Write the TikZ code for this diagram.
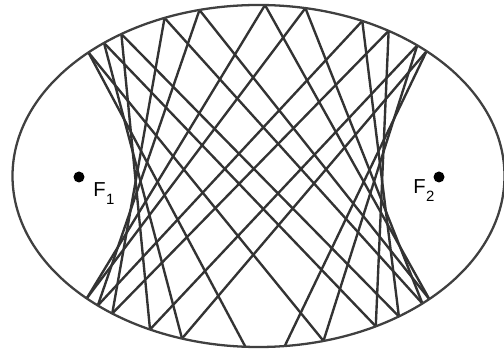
\documentclass[tikz,border=0pt]{standalone}
\usepackage{fontspec}
\setmainfont{Liberation Sans}
\begin{document}
\begin{tikzpicture}[x=2cm,y=2cm,
  chord/.style={draw=black!80,line width=1.35pt},
  rim/.style={draw=black!75,line width=1.3pt},
  focus/.style={circle,fill=black,inner sep=0pt,minimum size=0.22cm},
  flabel/.style={inner sep=0pt,anchor=base west,font=\fontsize{11.5}{12}\selectfont}]
\useasboundingbox (-2.585,-1.78) rectangle (2.455,1.76);
\def\aa{2.46}\def\bb{1.71}
% billiard path inside the ellipse: start point, direction, number of chords
\def\billiard#1#2#3#4#5{%
  \xdef\bpx{#1}\xdef\bpy{#2}\xdef\bdx{#3}\xdef\bdy{#4}%
  \foreach \k in {1,...,#5}{%
    \pgfmathsetmacro\btp{-2*(\bpx*\bdx/(\aa*\aa)+\bpy*\bdy/(\bb*\bb))/(\bdx*\bdx/(\aa*\aa)+\bdy*\bdy/(\bb*\bb))}%
    \pgfmathsetmacro\bqx{\bpx+\btp*\bdx}%
    \pgfmathsetmacro\bqy{\bpy+\btp*\bdy}%
    \pgfmathsetmacro\brr{sqrt(\bqx*\bqx/(\aa*\aa)+\bqy*\bqy/(\bb*\bb))}%
    \pgfmathsetmacro\bqx{\bqx/\brr}%
    \pgfmathsetmacro\bqy{\bqy/\brr}%
    \draw[chord] (\bpx,\bpy) -- (\bqx,\bqy);
    \pgfmathsetmacro\bnx{\bqx/(\aa*\aa)}%
    \pgfmathsetmacro\bny{\bqy/(\bb*\bb)}%
    \pgfmathsetmacro\bdn{(\bdx*\bnx+\bdy*\bny)/(\bnx*\bnx+\bny*\bny)}%
    \pgfmathsetmacro\bndx{\bdx-2*\bdn*\bnx}%
    \pgfmathsetmacro\bndy{\bdy-2*\bdn*\bny}%
    \xdef\bpx{\bqx}\xdef\bpy{\bqy}\xdef\bdx{\bndx}\xdef\bdy{\bndy}%
  }%
}
\pgfmathsetmacro\sx{0.065}
\pgfmathsetmacro\sy{\bb*sqrt(1-(\sx/\aa)*(\sx/\aa))}
\pgfmathsetmacro\fdx{1}
\pgfmathsetmacro\fdy{-1.79}
\pgfmathsetmacro\snx{\sx/(\aa*\aa)}
\pgfmathsetmacro\sny{\sy/(\bb*\bb)}
\pgfmathsetmacro\sdn{(\fdx*\snx+\fdy*\sny)/(\snx*\snx+\sny*\sny)}
\pgfmathsetmacro\gdx{-(\fdx-2*\sdn*\snx)}
\pgfmathsetmacro\gdy{-(\fdy-2*\sdn*\sny)}
\billiard{\sx}{\sy}{\fdx}{\fdy}{11}
\billiard{\sx}{\sy}{\gdx}{\gdy}{11}
\draw[rim] (0,0) ellipse[x radius=\aa, y radius=\bb];
\node[focus] (f1) at (-1.795,-0.01) {};
\node[focus] (f2) at (1.805,-0.01) {};
\node[flabel] (l1) at (-1.655,-0.21) {F\kern0.3pt\raisebox{-4.2pt}{\fontsize{8.5}{9}\selectfont 1}};
\node[flabel] (l2) at (1.545,-0.18) {F\kern0.3pt\raisebox{-4.2pt}{\fontsize{8.5}{9}\selectfont 2}};
\end{tikzpicture}
\end{document}
